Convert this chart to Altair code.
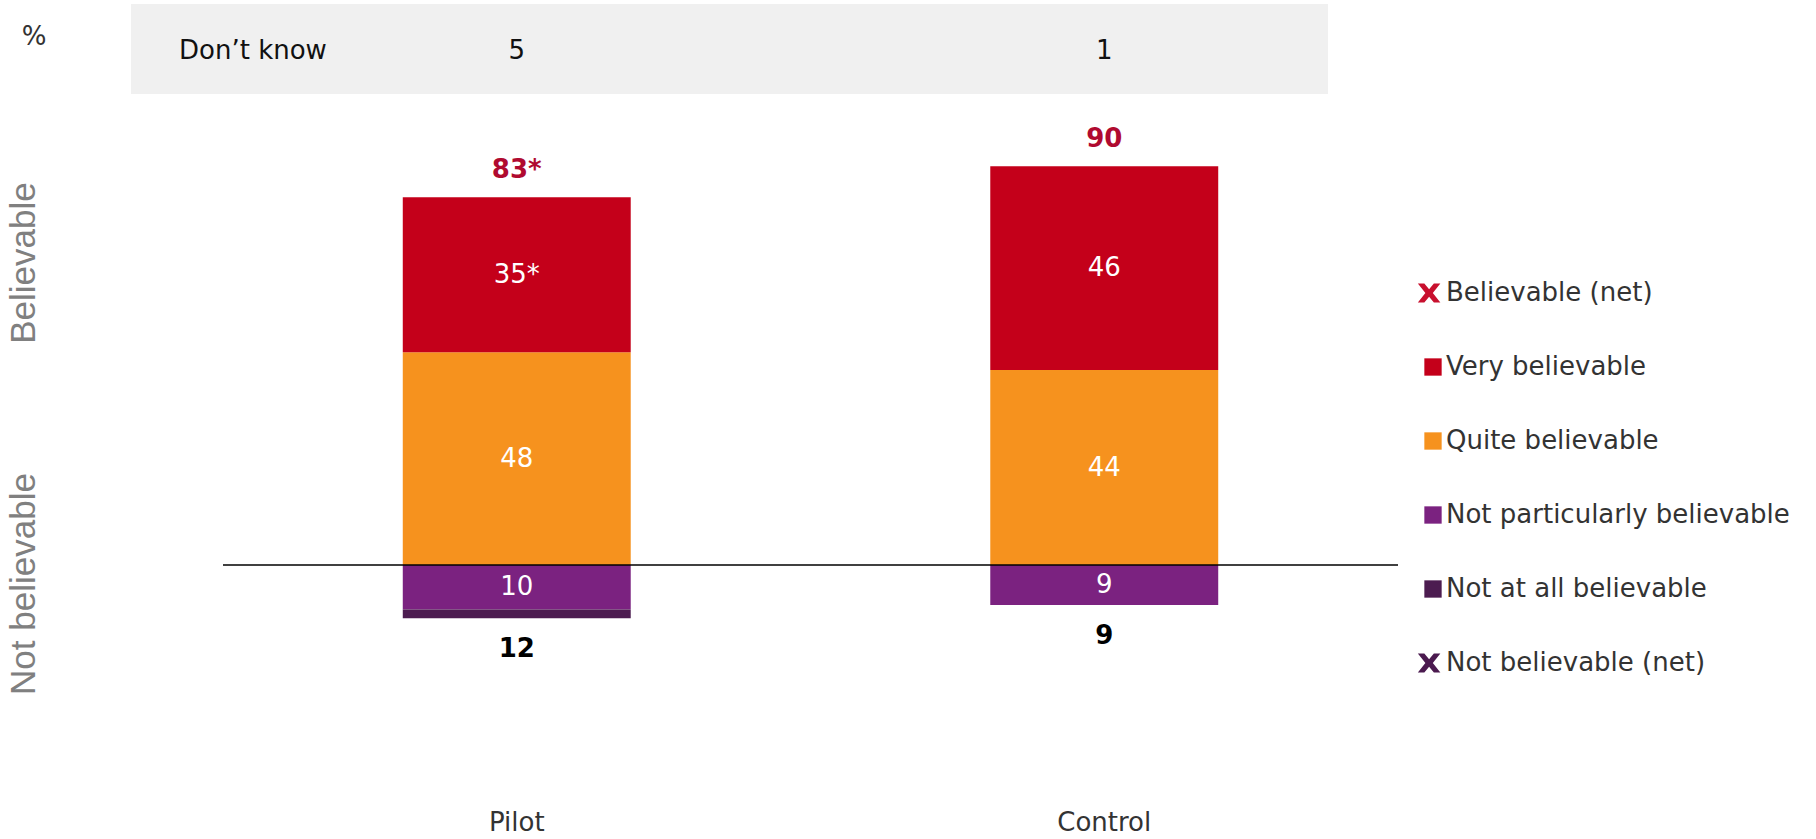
import altair as alt
import pandas as pd

# Survey results, % of respondents
groups = ["Pilot", "Control"]
very_believable = [35, 46]
quite_believable = [48, 44]
not_particularly = [10, 9]
not_at_all = [2, 0]
net_believable = [83, 90]
net_not_believable = [12, 9]
very_labels = ["35*", "46"]
net_believable_labels = ["83*", "90"]
dont_know = [5, 1]

categories = [
    "Believable (net)",
    "Very believable",
    "Quite believable",
    "Not particularly believable",
    "Not at all believable",
    "Not believable (net)",
]
colors = ["#c8102e", "#c4001a", "#f6921e", "#7b2280", "#4c1c50", "#4b1a4f"]

# Bold "x" glyph used for the net entries in the legend
x_glyph = ("M-1.75,-1.1L-1.0,-1.1L-0.45,-0.42L0.1,-1.1L0.85,-1.1L-0.02,0"
           "L0.85,1.1L0.1,1.1L-0.45,0.42L-1.0,1.1L-1.75,1.1L-0.88,0Z")
shapes = [x_glyph, "square", "square", "square", "square", x_glyph]

# Diverging stack: believable above zero, not believable below
rows = []
for i, g in enumerate(groups):
    q, v = quite_believable[i], very_believable[i]
    p, a = not_particularly[i], not_at_all[i]
    rows.append((g, "Quite believable", 0, q, str(q)))
    rows.append((g, "Very believable", q, q + v, very_labels[i]))
    rows.append((g, "Not particularly believable", 0, -p, str(p)))
    rows.append((g, "Not at all believable", -p, -p - a, ""))
seg = pd.DataFrame(rows, columns=["group", "category", "y0", "y1", "label"])
seg = seg[seg["y0"] != seg["y1"]].copy()
seg["mid"] = (seg["y0"] + seg["y1"]) / 2

top_df = pd.DataFrame({"group": groups, "value": net_believable, "label": net_believable_labels})
bottom_df = pd.DataFrame({"group": groups, "value": [-v for v in net_not_believable],
                          "label": [str(v) for v in net_not_believable]})
dk_df = pd.DataFrame({"group": groups, "value": dont_know})
legend_df = pd.DataFrame({"category": categories})
one = pd.DataFrame({"k": [0]})

W, H = 1175, 800
FONT = "DejaVu Sans"
SYM = 300

x_enc = alt.X(
    "group:N",
    sort=groups,
    scale=alt.Scale(domain=groups, paddingInner=0.612, paddingOuter=0.306),
    axis=alt.Axis(title="", domain=False, ticks=False, labelAngle=0, labelPadding=9,
                  labelFontSize=26, labelFont=FONT, labelColor="#333333"),
)
y_scale = alt.Scale(domain=[-53, 127.5], nice=False, zero=False)

color_enc = alt.Color(
    "category:N",
    scale=alt.Scale(domain=categories, range=colors),
    sort=categories,
    legend=alt.Legend(
        title=None, orient="none", legendX=1197, legendY=280, padding=0,
        symbolSize=SYM, symbolStrokeWidth=0, symbolOpacity=1,
        labelFontSize=26, labelFont=FONT, labelColor="#333333", labelOffset=0,
        labelLimit=600, rowPadding=48,
    ),
)
shape_enc = alt.Shape(
    "category:N",
    scale=alt.Scale(domain=categories, range=shapes),
    sort=categories,
    legend=alt.Legend(title=None),
)

band = alt.Chart(one).mark_rect(color="#f0f0f0").encode(
    x=alt.value(-92), x2=alt.value(1105), y=alt.value(4), y2=alt.value(94)
)
dk_title = alt.Chart(one).mark_text(
    text="Don\u2019t know", align="left", baseline="middle", font=FONT, fontSize=26, color="#111111"
).encode(x=alt.value(-44), y=alt.value(51))
dk_vals = alt.Chart(dk_df).mark_text(
    baseline="middle", font=FONT, fontSize=26, color="#111111"
).encode(x=x_enc, y=alt.value(51), text="value:N")

pct = alt.Chart(one).mark_text(
    text="%", baseline="middle", font=FONT, fontSize=26, color="#333333"
).encode(x=alt.value(-189), y=alt.value(37))
side_pos = alt.Chart(one).mark_text(
    text="Believable", angle=270, baseline="middle", font="Liberation Sans", fontSize=35, color="#808080"
).encode(x=alt.value(-199), y=alt.value(263))
side_neg = alt.Chart(one).mark_text(
    text="Not believable", angle=270, baseline="middle", font="Liberation Sans", fontSize=35, color="#808080"
).encode(x=alt.value(-199), y=alt.value(584))

bars = alt.Chart(seg).mark_bar().encode(
    x=x_enc,
    y=alt.Y("y0:Q", scale=y_scale, axis=None),
    y2="y1:Q",
    color=color_enc,
)
inner = alt.Chart(seg[seg["label"] != ""]).mark_text(
    baseline="middle", font=FONT, fontSize=26, color="white"
).encode(x=x_enc, y=alt.Y("mid:Q", scale=y_scale), text="label:N")

zero = alt.Chart(one).mark_rule(color="black", strokeWidth=1.5).encode(
    y=alt.datum(0), x=alt.value(0), x2=alt.value(W)
)

net_top = alt.Chart(top_df).mark_text(
    baseline="middle", dy=-27, font=FONT, fontSize=26, fontWeight="bold", color="#b00a30"
).encode(x=x_enc, y=alt.Y("value:Q", scale=y_scale), text="label:N")
net_bottom = alt.Chart(bottom_df).mark_text(
    baseline="middle", dy=31, font=FONT, fontSize=26, fontWeight="bold", color="black"
).encode(x=x_enc, y=alt.Y("value:Q", scale=y_scale), text="label:N")

# Legend-only layer: its rows are filtered out, so it draws nothing but
# contributes the shape channel to the merged legend
legend_layer = alt.Chart(legend_df).mark_point(filled=True, opacity=1, size=SYM).encode(
    x=alt.value(0), y=alt.value(0), color=color_enc, shape=shape_enc
).transform_filter("false")

chart = alt.layer(
    band, dk_title, dk_vals, pct, side_pos, side_neg,
    bars, inner, zero, net_top, net_bottom, legend_layer,
).properties(
    width=W, height=H,
    padding={"left": 223, "top": 0, "right": 418, "bottom": 39},
    autosize=alt.AutoSizeParams(type="none"),
    background="white",
).configure_view(stroke="transparent")

chart.save("out.html", embed_options={"renderer": "svg", "actions": False})
